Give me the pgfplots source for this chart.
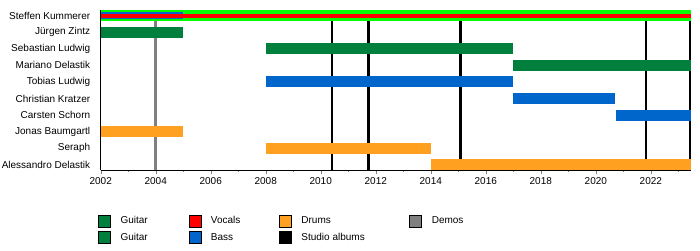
\documentclass[border=0pt]{standalone}
\usepackage{pgfplots}
\pgfplotsset{compat=1.18}
\usepackage{fontspec}
\setmainfont{Liberation Sans}
\definecolor{guitar}{RGB}{0,128,60}
\definecolor{lime}{RGB}{0,255,0}
\definecolor{vocals}{RGB}{255,0,0}
\definecolor{bass}{RGB}{0,102,204}
\definecolor{drums}{RGB}{255,160,32}
\definecolor{demos}{RGB}{128,128,128}
\begin{document}
\begin{tikzpicture}
\begin{axis}[
  scale only axis, width=590pt, height=160pt,
  xmin=2002, xmax=2023.45, ymin=-0.32, ymax=9.34,
  clip=false,
  axis x line*=bottom, axis y line*=left,
  xtick distance=2, minor x tick num=1,
  tick align=outside, major tick length=4pt, minor tick length=2pt,
  /pgf/number format/1000 sep={},
  /pgf/number format/assume math mode=true,
  ytick={0,...,9},
  yticklabels={Alessandro Delastik,Seraph,Jonas Baumgartl,Carsten Schorn,Christian Kratzer,Tobias Ludwig,Mariano Delastik,Sebastian Ludwig,Jürgen Zintz,Steffen Kummerer},
  ytick style={draw=none},
  tick label style={font=\fontsize{10}{12}\selectfont},
  y tick label style={xshift=-3pt},
  legend columns=4,
  legend image code/.code={\fill[#1] (0pt,-6pt) rectangle (12pt,6pt);},
  legend style={draw=none, fill=none, inner sep=0pt, row sep=4pt,
    at={(0,0)}, anchor=north west, xshift=-2.7pt, yshift=-44.7pt,
    font=\fontsize{10}{12}\selectfont,
    nodes={inner sep=0pt},
    /tikz/every odd column/.append style={column sep=10pt}},
]
% demos
\addplot[forget plot, demos, line width=2.7pt] coordinates {(2004,-0.32) (2004,9.34)};
% studio albums
\addplot[forget plot, black, line width=2.6pt] coordinates {(2010.41,-0.32) (2010.41,9.34)};
\addplot[forget plot, black, line width=2.6pt] coordinates {(2011.73,-0.32) (2011.73,9.34)};
\addplot[forget plot, black, line width=2.6pt] coordinates {(2015.08,-0.32) (2015.08,9.34)};
\addplot[forget plot, black, line width=2.6pt] coordinates {(2021.83,-0.32) (2021.83,9.34)};
\addplot[forget plot, black, line width=2.6pt] coordinates {(2023.42,-0.32) (2023.42,9.34)};
% Steffen Kummerer
\addplot[forget plot, lime, line width=11pt] coordinates {(2002,9) (2023.45,9)};
\addplot[forget plot, bass, line width=7pt] coordinates {(2002,9) (2005,9)};
\addplot[forget plot, vocals, line width=4pt] coordinates {(2002,9) (2023.45,9)};
% Juergen Zintz
\addplot[forget plot, guitar, line width=11pt] coordinates {(2002,8) (2005,8)};
% Sebastian Ludwig
\addplot[forget plot, guitar, line width=11pt] coordinates {(2008,7) (2017,7)};
% Mariano Delastik
\addplot[forget plot, guitar, line width=11pt] coordinates {(2017,6) (2023.45,6)};
% Tobias Ludwig
\addplot[forget plot, bass, line width=11pt] coordinates {(2008,5) (2017,5)};
% Christian Kratzer
\addplot[forget plot, bass, line width=11pt] coordinates {(2017,4) (2020.7,4)};
% Carsten Schorn
\addplot[forget plot, bass, line width=11pt] coordinates {(2020.75,3) (2023.45,3)};
% Jonas Baumgartl
\addplot[forget plot, drums, line width=11pt] coordinates {(2002,2) (2005,2)};
% Seraph
\addplot[forget plot, drums, line width=11pt] coordinates {(2008,1) (2014,1)};
% Alessandro Delastik
\addplot[forget plot, drums, line width=11pt] coordinates {(2014,0) (2023.45,0)};
% legend
\addlegendimage{fill=guitar}\addlegendentry{\makebox[68pt][l]{Guitar}}
\addlegendimage{fill=vocals}\addlegendentry{\makebox[68pt][l]{Vocals}}
\addlegendimage{fill=drums}\addlegendentry{\makebox[108pt][l]{Drums}}
\addlegendimage{fill=demos}\addlegendentry{Demos}
\addlegendimage{fill=guitar}\addlegendentry{\makebox[68pt][l]{Guitar}}
\addlegendimage{fill=bass}\addlegendentry{\makebox[68pt][l]{Bass}}
\addlegendimage{fill=black}\addlegendentry{\makebox[108pt][l]{Studio albums}}
\coordinate (o) at (rel axis cs:0,0);
\end{axis}
\pgfresetboundingbox
\path[use as bounding box] ([shift={(-100.7pt,170pt)}]o) rectangle ([shift={(599.3pt,-80pt)}]o);
\end{tikzpicture}
\end{document}
